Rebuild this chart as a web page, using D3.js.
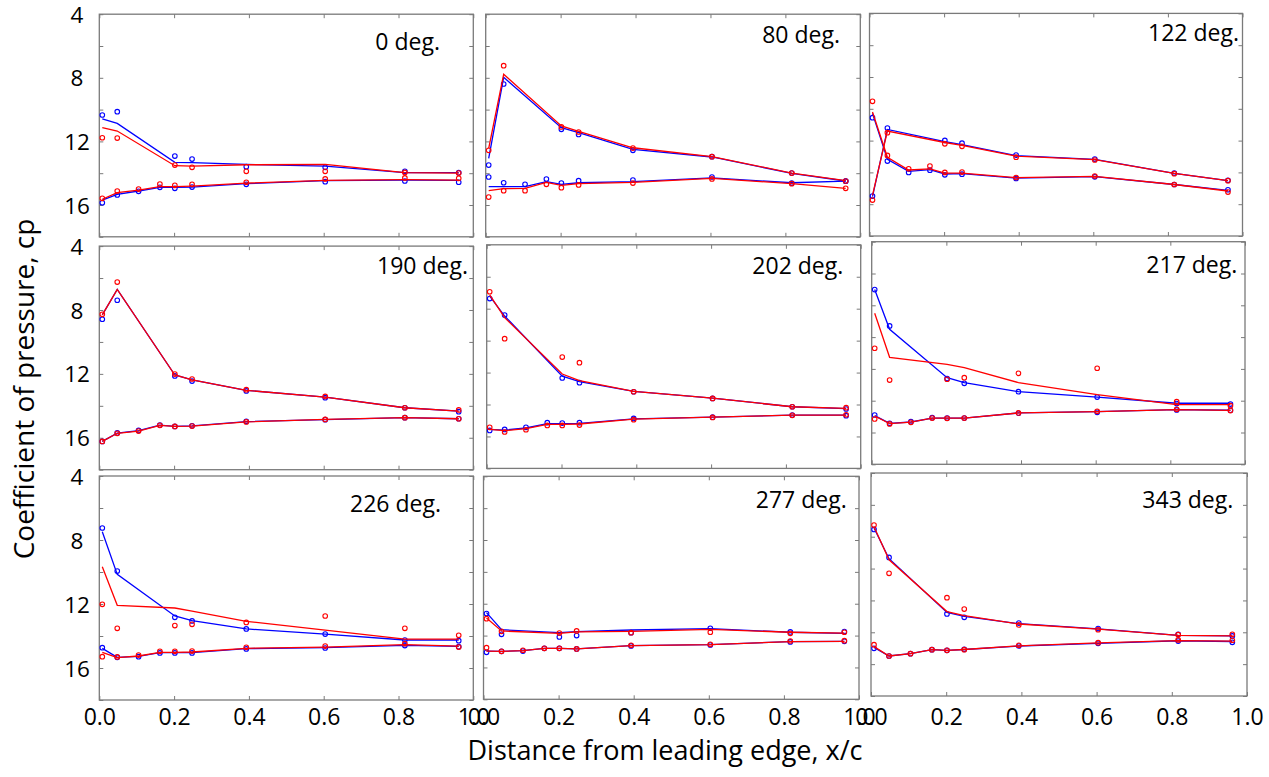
<!DOCTYPE html>
<html>
<head>
<meta charset="utf-8">
<script src="https://cdn.jsdelivr.net/npm/d3@7"></script>
<style>
  html, body { margin: 0; padding: 0; background: #fff; }
  svg { display: block; font-family: "Open Sans", sans-serif; }
</style>
</head>
<body>
<svg id="chart" width="1269" height="777"></svg>
<script>
// Chordwise tap positions (x/c) on the upper and lower surfaces
const xUpper = [0.008, 0.048, 0.202, 0.248, 0.393, 0.604, 0.817, 0.961];
const xLower = [0.008, 0.048, 0.105, 0.162, 0.202, 0.248, 0.393, 0.604, 0.817, 0.961];

const panelTitles = ['0 deg.', '80 deg.', '122 deg.', '190 deg.', '202 deg.', '217 deg.', '226 deg.', '277 deg.', '343 deg.'];

const cpTickValues = [4, 6, 8, 10, 12, 14, 16, 18];
const cpTickLabels = [4, 8, 12, 16];
const xTickValues = [0.0, 0.2, 0.4, 0.6, 0.8, 1.0];

// 0 deg.
const d0BlueUpPts  = [10.34, 10.13, 12.92, 13.11, 13.59, 13.63, 13.88, 13.97];
const d0BlueUpFit  = [10.59, 10.87, 13.32, 13.34, 13.45, 13.55, 13.97, 13.97];
const d0RedUpPts   = [11.77, 11.79, 13.49, 13.63, 13.88, 13.88, 13.95, 13.99];
const d0RedUpFit   = [11.14, 11.35, 13.53, 13.55, 13.47, 13.45, 13.97, 13.99];
const d0BlueLoPts  = [15.86, 15.37, 15.14, 14.89, 14.95, 14.87, 14.70, 14.53, 14.49, 14.57];
const d0BlueLoFit  = [15.69, 15.33, 15.12, 14.89, 14.89, 14.87, 14.66, 14.47, 14.43, 14.45];
const d0RedLoPts   = [15.58, 15.12, 15.00, 14.68, 14.76, 14.70, 14.57, 14.36, 14.30, 14.32];
const d0RedLoFit   = [15.64, 15.22, 15.06, 14.85, 14.85, 14.81, 14.62, 14.45, 14.41, 14.43];

// 80 deg.
const d80BlueUpPts = [13.49, 8.39, 11.24, 11.56, 12.56, 12.96, 13.99, 14.49];
const d80BlueUpFit = [13.07, 7.97, 11.14, 11.45, 12.50, 12.98, 14.01, 14.49];
const d80RedUpPts  = [12.56, 7.24, 11.09, 11.41, 12.42, 12.96, 13.99, 14.49];
const d80RedUpFit  = [12.44, 7.78, 11.03, 11.37, 12.40, 12.96, 13.99, 14.47];
const d80BlueLoPts = [14.24, 14.60, 14.70, 14.37, 14.62, 14.47, 14.43, 14.24, 14.62, 14.50];
const d80BlueLoFit = [14.85, 14.85, 14.85, 14.53, 14.70, 14.60, 14.53, 14.30, 14.60, 14.50];
const d80RedLoPts  = [15.50, 15.10, 15.10, 14.70, 14.91, 14.74, 14.62, 14.36, 14.66, 14.95];
const d80RedLoFit  = [15.10, 14.97, 14.95, 14.58, 14.76, 14.66, 14.58, 14.32, 14.66, 14.95];

// 122 deg.
const d122BlueUpPts = [15.49, 11.21, 11.99, 12.16, 12.91, 13.16, 14.04, 14.50];
const d122BlueUpFit = [15.53, 11.30, 12.07, 12.26, 12.95, 13.18, 14.06, 14.52];
const d122RedUpPts  = [15.74, 11.50, 12.20, 12.36, 13.04, 13.22, 14.08, 14.52];
const d122RedUpFit  = [15.45, 11.40, 12.12, 12.30, 12.98, 13.20, 14.06, 14.52];
const d122BlueLoPts = [10.56, 13.29, 14.00, 13.86, 14.15, 14.11, 14.38, 14.28, 14.76, 15.09];
const d122BlueLoFit = [10.29, 13.18, 13.93, 13.83, 14.10, 14.08, 14.36, 14.26, 14.76, 15.13];
const d122RedLoPts  = [9.53, 12.93, 13.77, 13.60, 14.00, 13.98, 14.32, 14.23, 14.76, 15.24];
const d122RedLoFit  = [10.20, 13.05, 13.85, 13.78, 14.04, 14.04, 14.33, 14.25, 14.76, 15.17];

// 190 deg.
const d190BlueUpPts = [8.58, 7.39, 12.13, 12.45, 13.07, 13.49, 14.12, 14.37];
const d190BlueUpFit = [8.31, 6.71, 12.07, 12.38, 13.03, 13.45, 14.12, 14.33];
const d190RedUpPts  = [8.27, 6.25, 12.01, 12.32, 12.99, 13.41, 14.12, 14.26];
const d190RedUpFit  = [8.31, 6.71, 12.07, 12.38, 13.03, 13.45, 14.12, 14.33];
const d190BlueLoPts = [16.23, 15.70, 15.54, 15.20, 15.29, 15.25, 14.97, 14.87, 14.74, 14.81];
const d190BlueLoFit = [16.23, 15.71, 15.56, 15.21, 15.29, 15.26, 14.99, 14.86, 14.74, 14.81];
const d190RedLoPts  = [16.23, 15.72, 15.58, 15.22, 15.29, 15.27, 15.01, 14.85, 14.74, 14.81];
const d190RedLoFit  = [16.23, 15.72, 15.58, 15.22, 15.29, 15.27, 15.01, 14.85, 14.74, 14.81];

// 202 deg.
const d202BlueUpPts = [7.37, 8.40, 12.34, 12.63, 13.20, 13.62, 14.14, 14.28];
const d202BlueUpFit = [7.21, 8.46, 12.22, 12.57, 13.18, 13.60, 14.14, 14.26];
const d202RedUpPts  = [6.94, 9.88, 11.03, 11.38, 13.20, 13.62, 14.14, 14.20];
const d202RedUpFit  = [7.14, 8.56, 12.09, 12.51, 13.18, 13.60, 14.14, 14.24];
const d202BlueLoPts = [15.62, 15.56, 15.43, 15.14, 15.16, 15.14, 14.87, 14.79, 14.66, 14.70];
const d202BlueLoFit = [15.56, 15.60, 15.47, 15.20, 15.20, 15.18, 14.90, 14.79, 14.66, 14.67];
const d202RedLoPts  = [15.43, 15.72, 15.58, 15.31, 15.31, 15.29, 14.95, 14.81, 14.68, 14.64];
const d202RedLoFit  = [15.56, 15.64, 15.51, 15.24, 15.24, 15.22, 14.92, 14.79, 14.66, 14.66];

// 217 deg.
const d217BlueUpPts = [7.01, 9.30, 12.61, 12.91, 13.43, 13.77, 14.18, 14.21];
const d217BlueUpFit = [7.01, 9.51, 12.55, 12.86, 13.43, 13.77, 14.16, 14.16];
const d217RedUpPts  = [10.70, 12.70, 12.65, 12.55, 12.28, 11.96, 14.06, 14.31];
const d217RedUpFit  = [8.50, 11.27, 11.71, 11.92, 12.86, 13.62, 14.25, 14.25];
const d217BlueLoPts = [14.90, 15.42, 15.32, 15.07, 15.09, 15.09, 14.79, 14.73, 14.58, 14.60];
const d217BlueLoFit = [14.94, 15.42, 15.34, 15.09, 15.09, 15.09, 14.77, 14.69, 14.56, 14.60];
const d217RedLoPts  = [15.15, 15.46, 15.36, 15.09, 15.11, 15.09, 14.77, 14.67, 14.54, 14.62];
const d217RedLoFit  = [14.96, 15.44, 15.35, 15.09, 15.10, 15.09, 14.77, 14.69, 14.56, 14.61];

// 226 deg.
const d226BlueUpPts = [7.25, 9.94, 12.83, 13.06, 13.56, 13.88, 14.25, 14.29];
const d226BlueUpFit = [7.48, 10.15, 12.75, 13.04, 13.56, 13.88, 14.25, 14.25];
const d226RedUpPts  = [12.02, 13.52, 13.35, 13.27, 13.15, 12.75, 13.52, 13.96];
const d226RedUpFit  = [9.67, 12.08, 12.25, 12.44, 13.08, 13.63, 14.19, 14.19];
const d226BlueLoPts = [14.73, 15.33, 15.29, 15.06, 15.06, 15.06, 14.81, 14.75, 14.60, 14.67];
const d226BlueLoFit = [14.77, 15.33, 15.27, 15.04, 15.04, 15.04, 14.79, 14.73, 14.58, 14.65];
const d226RedLoPts  = [15.29, 15.31, 15.19, 14.96, 14.96, 14.94, 14.71, 14.63, 14.48, 14.69];
const d226RedLoFit  = [15.02, 15.35, 15.25, 15.02, 15.02, 15.00, 14.77, 14.69, 14.54, 14.63];

// 277 deg.
const d277BlueUpPts = [12.62, 13.92, 14.09, 14.00, 13.82, 13.54, 13.77, 13.75];
const d277BlueUpFit = [12.56, 13.63, 13.82, 13.75, 13.65, 13.56, 13.79, 13.86];
const d277RedUpPts  = [12.94, 13.73, 13.84, 13.71, 13.82, 13.79, 13.86, 13.79];
const d277RedUpFit  = [12.90, 13.71, 13.86, 13.77, 13.73, 13.61, 13.79, 13.84];
const d277BlueLoPts = [15.05, 14.99, 14.97, 14.80, 14.80, 14.84, 14.65, 14.59, 14.40, 14.36];
const d277BlueLoFit = [14.97, 14.99, 14.95, 14.80, 14.80, 14.84, 14.63, 14.57, 14.38, 14.36];
const d277RedLoPts  = [14.76, 14.99, 14.92, 14.80, 14.80, 14.84, 14.61, 14.55, 14.34, 14.32];
const d277RedLoFit  = [14.97, 14.99, 14.95, 14.80, 14.80, 14.84, 14.63, 14.57, 14.38, 14.36];

// 343 deg.
const d343BlueUpPts = [7.54, 9.30, 12.85, 13.06, 13.42, 13.77, 14.13, 14.23];
const d343BlueUpFit = [7.45, 9.38, 12.75, 13.00, 13.46, 13.79, 14.19, 14.23];
const d343RedUpPts  = [7.27, 10.30, 11.83, 12.54, 13.54, 13.84, 14.15, 14.13];
const d343RedUpFit  = [7.37, 9.45, 12.70, 12.96, 13.48, 13.80, 14.19, 14.23];
const d343BlueLoPts = [15.01, 15.49, 15.34, 15.09, 15.13, 15.07, 14.86, 14.69, 14.55, 14.63];
const d343BlueLoFit = [14.95, 15.49, 15.34, 15.09, 15.13, 15.08, 14.86, 14.69, 14.53, 14.58];
const d343RedLoPts  = [14.78, 15.49, 15.34, 15.09, 15.13, 15.09, 14.82, 14.65, 14.48, 14.50];
const d343RedLoFit  = [14.90, 15.49, 15.34, 15.09, 15.13, 15.08, 14.85, 14.67, 14.52, 14.55];

// Panel frames (px) and title anchors
const panelLeft   = [99.3, 485.7, 869.5, 99.3, 486.7, 871.7, 99.3, 483.5, 871.0];
const panelTop    = [14.2, 14.2, 13.4, 246.1, 244.8, 241.7, 476.0, 476.3, 473.0];
const panelWidth  = [374.0, 374.6, 373.0, 374.0, 374.0, 373.3, 374.0, 375.5, 376.0];
const panelHeight = [222.6, 222.6, 222.6, 223.6, 223.6, 222.6, 224.0, 223.0, 223.0];
const titleX      = [440, 840, 1239, 468, 843.3, 1237.3, 441, 846.7, 1233.3];
const titleY      = [50, 43.3, 40.7, 274, 274, 273.3, 512.3, 507.7, 507.7];

const BLUE = '#0000ff';
const RED = '#ff0000';
const FRAME = '#7a7a7a';

// Series table per panel, drawn blue first so red sits on top
const panelSeries = [
  [d0BlueUpPts, d0BlueUpFit, d0BlueLoPts, d0BlueLoFit, d0RedUpPts, d0RedUpFit, d0RedLoPts, d0RedLoFit],
  [d80BlueUpPts, d80BlueUpFit, d80BlueLoPts, d80BlueLoFit, d80RedUpPts, d80RedUpFit, d80RedLoPts, d80RedLoFit],
  [d122BlueUpPts, d122BlueUpFit, d122BlueLoPts, d122BlueLoFit, d122RedUpPts, d122RedUpFit, d122RedLoPts, d122RedLoFit],
  [d190BlueUpPts, d190BlueUpFit, d190BlueLoPts, d190BlueLoFit, d190RedUpPts, d190RedUpFit, d190RedLoPts, d190RedLoFit],
  [d202BlueUpPts, d202BlueUpFit, d202BlueLoPts, d202BlueLoFit, d202RedUpPts, d202RedUpFit, d202RedLoPts, d202RedLoFit],
  [d217BlueUpPts, d217BlueUpFit, d217BlueLoPts, d217BlueLoFit, d217RedUpPts, d217RedUpFit, d217RedLoPts, d217RedLoFit],
  [d226BlueUpPts, d226BlueUpFit, d226BlueLoPts, d226BlueLoFit, d226RedUpPts, d226RedUpFit, d226RedLoPts, d226RedLoFit],
  [d277BlueUpPts, d277BlueUpFit, d277BlueLoPts, d277BlueLoFit, d277RedUpPts, d277RedUpFit, d277RedLoPts, d277RedLoFit],
  [d343BlueUpPts, d343BlueUpFit, d343BlueLoPts, d343BlueLoFit, d343RedUpPts, d343RedUpFit, d343RedLoPts, d343RedLoFit]
];
const seriesX = [xUpper, xUpper, xLower, xLower, xUpper, xUpper, xLower, xLower];
const seriesColor = [BLUE, BLUE, BLUE, BLUE, RED, RED, RED, RED];
const seriesIsFit = [false, true, false, true, false, true, false, true];

const svg = d3.select('#chart');

panelTitles.forEach((title, i) => {
  const w = panelWidth[i], h = panelHeight[i];
  const x = d3.scaleLinear().domain([0, 1]).range([0, w]);
  const y = d3.scaleLinear().domain([4, 18]).range([0, h]);
  const g = svg.append('g').attr('transform', `translate(${panelLeft[i]},${panelTop[i]})`);

  // Inward tick marks on all four sides
  const tickAxes = [
    { axis: d3.axisLeft(y).tickValues(cpTickValues), tr: 'translate(0,0)' },
    { axis: d3.axisRight(y).tickValues(cpTickValues), tr: `translate(${w},0)` },
    { axis: d3.axisTop(x).tickValues(xTickValues), tr: 'translate(0,0)' },
    { axis: d3.axisBottom(x).tickValues(xTickValues), tr: `translate(0,${h})` }
  ];
  tickAxes.forEach(t => {
    const a = g.append('g').attr('transform', t.tr)
      .call(t.axis.tickSize(-4).tickFormat(''));
    a.select('.domain').remove();
    a.selectAll('line').attr('stroke', FRAME).attr('stroke-width', 1);
  });

  g.append('rect')
    .attr('width', w).attr('height', h)
    .attr('fill', 'none').attr('stroke', FRAME).attr('stroke-width', 1.3);

  // Left-column cp labels
  if (i % 3 === 0) {
    const a = g.append('g').call(d3.axisLeft(y).tickValues(cpTickLabels).tickSize(0).tickFormat(d3.format('d')));
    a.select('.domain').remove();
    a.selectAll('text')
      .attr('x', 77 - panelLeft[i]).attr('text-anchor', 'middle')
      .attr('dy', '0.36em')
      .attr('font-family', '"Open Sans", sans-serif')
      .attr('font-size', 22.5).attr('fill', '#000');
  }

  // Bottom-row x/c labels
  if (i >= 6) {
    const a = g.append('g').attr('transform', `translate(0,${h})`)
      .call(d3.axisBottom(x).tickValues(xTickValues).tickSize(0).tickFormat(d3.format('.1f')));
    a.select('.domain').remove();
    a.selectAll('text')
      .attr('y', 716.5 - panelTop[i] - h).attr('dy', '0.36em')
      .attr('font-family', '"Open Sans", sans-serif')
      .attr('font-size', 23).attr('fill', '#000');
  }

  const marks = g.append('g');
  panelSeries[i].forEach((vals, k) => {
    const xs = seriesX[k];
    const pts = vals.map((v, j) => [xs[j], v]);
    if (seriesIsFit[k]) {
      marks.append('path')
        .datum(pts)
        .attr('fill', 'none')
        .attr('stroke', seriesColor[k])
        .attr('stroke-width', 1.3)
        .attr('d', d3.line().x(d => x(d[0])).y(d => y(d[1])));
    } else {
      marks.selectAll(null).data(pts).join('circle')
        .attr('cx', d => x(d[0])).attr('cy', d => y(d[1]))
        .attr('r', 2.3)
        .attr('fill', 'none')
        .attr('stroke', seriesColor[k])
        .attr('stroke-width', 1.1);
    }
  });

  g.append('text')
    .attr('x', titleX[i] - panelLeft[i]).attr('y', titleY[i] - panelTop[i])
    .attr('text-anchor', 'end')
    .attr('font-size', 23).attr('fill', '#000')
    .text(title);
});

svg.append('text')
  .attr('transform', 'translate(34,389) rotate(-90)')
  .attr('text-anchor', 'middle')
  .attr('font-size', 28).attr('fill', '#000')
  .text('Coefficient of pressure, cp');

svg.append('text')
  .attr('x', 665).attr('y', 760)
  .attr('text-anchor', 'middle')
  .attr('font-size', 27).attr('fill', '#000')
  .text('Distance from leading edge, x/c');
</script>
</body>
</html>
